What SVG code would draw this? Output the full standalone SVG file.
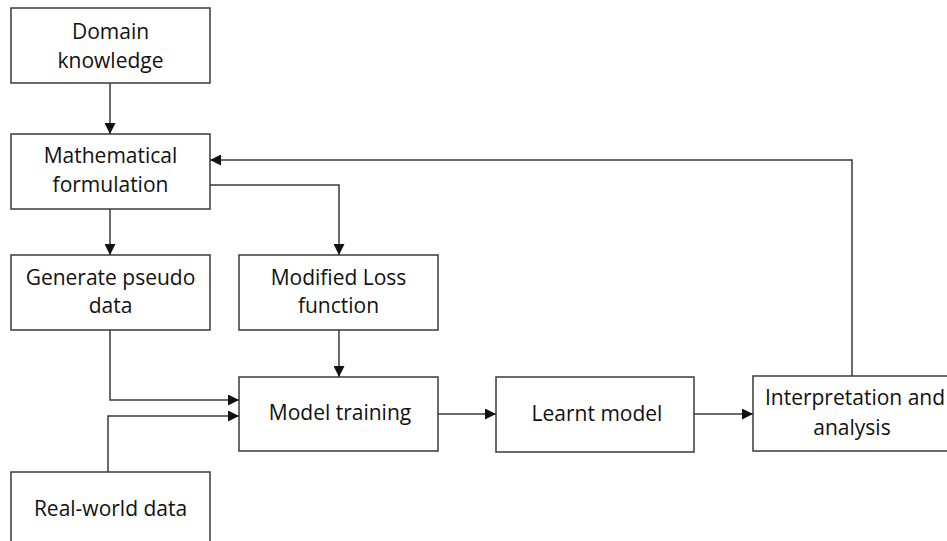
<svg xmlns="http://www.w3.org/2000/svg" width="947" height="541" viewBox="0 0 947 541">
<style>
.box{fill:#fff;stroke:#3a3a3a;stroke-width:1.5}
.lbl{font-family:"Open Sans","Liberation Sans",sans-serif;font-size:21px;fill:#111;text-anchor:middle}
.con{fill:none;stroke:#3a3a3a;stroke-width:1.5;marker-end:url(#ah)}
</style>
<defs>
<marker id="ah" viewBox="0 0 10 10" refX="10" refY="5" markerWidth="11" markerHeight="11" markerUnits="userSpaceOnUse" orient="auto">
<path d="M0,0 L10,5 L0,10 z" fill="#111"/>
</marker>
</defs>
<rect width="947" height="541" fill="#fff"/>
<g id="connectors">
<path class="con" d="M110,83 V134"/>
<path class="con" d="M110,209 V255"/>
<path class="con" d="M210,185 H339 V255"/>
<path class="con" d="M339,330 V377"/>
<path class="con" d="M110,330 V400 H239"/>
<path class="con" d="M108,472 V416 H239"/>
<path class="con" d="M438,414 H496"/>
<path class="con" d="M694,414 H753"/>
<path class="con" d="M852,376 V160 H210"/>
</g>
<g id="domain"><rect class="box" x="11" y="8" width="199" height="75"/><text class="lbl" x="110.5" y="39">Domain</text><text class="lbl" x="110.5" y="68">knowledge</text></g>
<g id="math"><rect class="box" x="11" y="134" width="199" height="75"/><text class="lbl" x="110.5" y="163">Mathematical</text><text class="lbl" x="110.5" y="192">formulation</text></g>
<g id="pseudo"><rect class="box" x="11" y="255" width="199" height="75"/><text class="lbl" x="110.5" y="285">Generate pseudo</text><text class="lbl" x="110.5" y="313">data</text></g>
<g id="loss"><rect class="box" x="239" y="255" width="199" height="75"/><text class="lbl" x="338.5" y="285">Modified Loss</text><text class="lbl" x="338.5" y="313">function</text></g>
<g id="training"><rect class="box" x="239" y="377" width="199" height="74"/><text class="lbl" x="340" y="420">Model training</text></g>
<g id="realworld"><rect class="box" x="11" y="472" width="199" height="80"/><text class="lbl" x="110.5" y="516">Real-world data</text></g>
<g id="learnt"><rect class="box" x="496" y="377" width="198" height="75"/><text class="lbl" x="597" y="421">Learnt model</text></g>
<g id="interp"><rect class="box" x="753" y="376" width="200" height="75"/><text class="lbl" x="855" y="405">Interpretation and</text><text class="lbl" x="852" y="435">analysis</text></g>
</svg>
